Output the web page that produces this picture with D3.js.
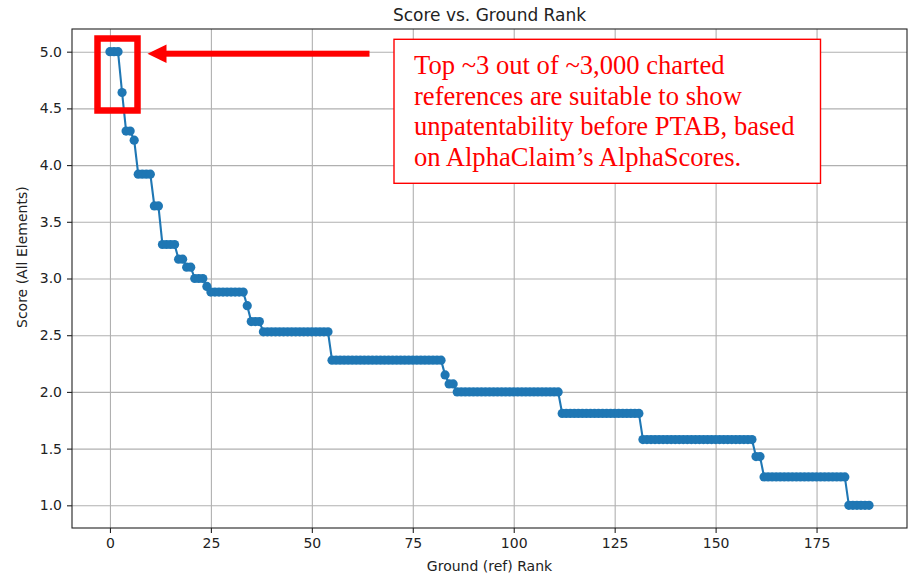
<!DOCTYPE html>
<html>
<head>
<meta charset="utf-8">
<script src="https://cdn.jsdelivr.net/npm/d3@7"></script>
<style>
  html, body { margin: 0; padding: 0; background: #fff; }
  svg { display: block; font-family: "DejaVu Sans", sans-serif; }
  .tick text { font-family: "DejaVu Sans", sans-serif; font-size: 14px; fill: #222; }
  .tick line { stroke: #222; }
  .grid .tick line { stroke: #b0b0b0; stroke-width: 1.1; }
  .grid .domain { display: none; }
</style>
</head>
<body>
<svg id="chart" width="909" height="576"></svg>
<script>
// ground rank is the index into scores (0 .. 188)
const scores = [
  5.00, 5.00, 5.00, 4.64, 4.30, 4.30, 4.22, 3.92, 3.92, 3.92,
  3.92, 3.64, 3.64, 3.30, 3.30, 3.30, 3.30, 3.17, 3.17, 3.10,
  3.10, 3.00, 3.00, 3.00, 2.93, 2.88, 2.88, 2.88, 2.88, 2.88,
  2.88, 2.88, 2.88, 2.88, 2.76, 2.62, 2.62, 2.62, 2.53, 2.53,
  2.53, 2.53, 2.53, 2.53, 2.53, 2.53, 2.53, 2.53, 2.53, 2.53,
  2.53, 2.53, 2.53, 2.53, 2.53, 2.28, 2.28, 2.28, 2.28, 2.28,
  2.28, 2.28, 2.28, 2.28, 2.28, 2.28, 2.28, 2.28, 2.28, 2.28,
  2.28, 2.28, 2.28, 2.28, 2.28, 2.28, 2.28, 2.28, 2.28, 2.28,
  2.28, 2.28, 2.28, 2.15, 2.07, 2.07, 2.00, 2.00, 2.00, 2.00,
  2.00, 2.00, 2.00, 2.00, 2.00, 2.00, 2.00, 2.00, 2.00, 2.00,
  2.00, 2.00, 2.00, 2.00, 2.00, 2.00, 2.00, 2.00, 2.00, 2.00,
  2.00, 2.00, 1.81, 1.81, 1.81, 1.81, 1.81, 1.81, 1.81, 1.81,
  1.81, 1.81, 1.81, 1.81, 1.81, 1.81, 1.81, 1.81, 1.81, 1.81,
  1.81, 1.81, 1.58, 1.58, 1.58, 1.58, 1.58, 1.58, 1.58, 1.58,
  1.58, 1.58, 1.58, 1.58, 1.58, 1.58, 1.58, 1.58, 1.58, 1.58,
  1.58, 1.58, 1.58, 1.58, 1.58, 1.58, 1.58, 1.58, 1.58, 1.58,
  1.43, 1.43, 1.25, 1.25, 1.25, 1.25, 1.25, 1.25, 1.25, 1.25,
  1.25, 1.25, 1.25, 1.25, 1.25, 1.25, 1.25, 1.25, 1.25, 1.25,
  1.25, 1.25, 1.25, 1.00, 1.00, 1.00, 1.00, 1.00, 1.00
];

const xTicks = [0, 25, 50, 75, 100, 125, 150, 175];
const yTicks = [1.0, 1.5, 2.0, 2.5, 3.0, 3.5, 4.0, 4.5, 5.0];

const titleText = "Score vs. Ground Rank";
const xLabelText = "Ground (ref) Rank";
const yLabelText = "Score (All Elements)";
const noteLines = [
  "Top ~3 out of ~3,000 charted",
  "references are suitable to show",
  "unpatentability before PTAB, based",
  "on AlphaClaim\u2019s AlphaScores."
];

// plot area (axes box) in pixels
const plotLeft = 72, plotRight = 907, plotTop = 29, plotBottom = 528;

const data = scores.map((s, i) => ({ rank: i, score: s }));

// matplotlib style 5% margins around the data
const xPad = (data.length - 1) * 0.05;
const xScale = d3.scaleLinear()
  .domain([-xPad, data.length - 1 + xPad])
  .range([plotLeft, plotRight]);

const yMin = d3.min(scores), yMax = d3.max(scores);
const yPad = (yMax - yMin) * 0.05;
const yScale = d3.scaleLinear()
  .domain([yMin - yPad, yMax + yPad])
  .range([plotBottom, plotTop]);

const svg = d3.select("#chart");

// grid lines
svg.append("g")
  .attr("class", "grid")
  .attr("transform", `translate(0, ${plotBottom})`)
  .call(d3.axisBottom(xScale).tickValues(xTicks).tickSize(-(plotBottom - plotTop)).tickFormat(""));
svg.append("g")
  .attr("class", "grid")
  .attr("transform", `translate(${plotLeft}, 0)`)
  .call(d3.axisLeft(yScale).tickValues(yTicks).tickSize(-(plotRight - plotLeft)).tickFormat(""));

// line + markers
const line = d3.line()
  .x(d => xScale(d.rank))
  .y(d => yScale(d.score));

svg.append("path")
  .datum(data)
  .attr("d", line)
  .attr("fill", "none")
  .attr("stroke", "#1f77b4")
  .attr("stroke-width", 2.1);

svg.append("g")
  .selectAll("circle")
  .data(data)
  .join("circle")
  .attr("cx", d => xScale(d.rank))
  .attr("cy", d => yScale(d.score))
  .attr("r", 4.6)
  .attr("fill", "#1f77b4");

// axes
const xAxis = svg.append("g")
  .attr("transform", `translate(0, ${plotBottom})`)
  .call(d3.axisBottom(xScale).tickValues(xTicks).tickSize(5).tickPadding(5).tickSizeOuter(0));
const yAxis = svg.append("g")
  .attr("transform", `translate(${plotLeft}, 0)`)
  .call(d3.axisLeft(yScale).tickValues(yTicks).tickSize(5).tickPadding(5).tickFormat(d3.format(".1f")).tickSizeOuter(0));
xAxis.select(".domain").remove();
yAxis.select(".domain").remove();
xAxis.selectAll(".tick line").attr("stroke-width", 1.1);
yAxis.selectAll(".tick line").attr("stroke-width", 1.1);

// axes frame
svg.append("rect")
  .attr("x", plotLeft).attr("y", plotTop)
  .attr("width", plotRight - plotLeft).attr("height", plotBottom - plotTop)
  .attr("fill", "none")
  .attr("stroke", "#222")
  .attr("stroke-width", 1.1);

// title and labels
svg.append("text")
  .attr("x", (plotLeft + plotRight) / 2).attr("y", 20.5)
  .attr("text-anchor", "middle")
  .attr("font-size", 17)
  .attr("fill", "#222")
  .text(titleText);

svg.append("text")
  .attr("x", (plotLeft + plotRight) / 2).attr("y", 571)
  .attr("text-anchor", "middle")
  .attr("font-size", 14)
  .attr("fill", "#222")
  .text(xLabelText);

svg.append("text")
  .attr("transform", "translate(27, 328) rotate(-90)")
  .attr("text-anchor", "start")
  .attr("font-size", 14)
  .attr("fill", "#222")
  .text(yLabelText);

// highlight box around the top scores
svg.append("rect")
  .attr("x", 97.5).attr("y", 38.5)
  .attr("width", 40).attr("height", 72)
  .attr("fill", "none")
  .attr("stroke", "#ff0000")
  .attr("stroke-width", 6.5);

// arrow pointing at the box
svg.append("rect")
  .attr("x", 164).attr("y", 50.7)
  .attr("width", 205.5).attr("height", 6)
  .attr("fill", "#ff0000");
svg.append("path")
  .attr("d", "M147.5,53.7 L166.5,44.5 L166.5,62.9 Z")
  .attr("fill", "#ff0000");

// note box
svg.append("rect")
  .attr("x", 394).attr("y", 39.3)
  .attr("width", 426.5).attr("height", 144)
  .attr("fill", "#fff")
  .attr("stroke", "#ff0000")
  .attr("stroke-width", 1.4);

svg.append("g")
  .selectAll("text")
  .data(noteLines)
  .join("text")
  .attr("x", 414)
  .attr("y", (d, i) => 74 + i * 30.55)
  .attr("font-family", "'Liberation Serif', 'Times New Roman', serif")
  .attr("font-size", 26.6)
  .attr("fill", "#ff0000")
  .text(d => d);
</script>
</body>
</html>
